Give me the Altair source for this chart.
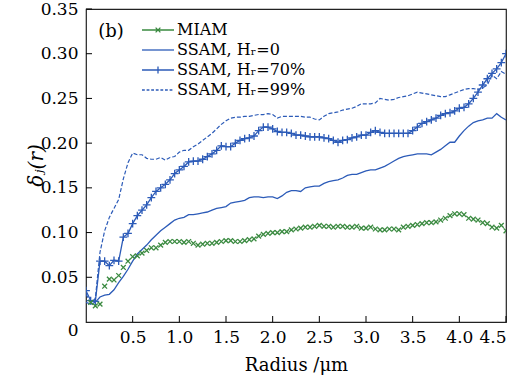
import altair as alt
import pandas as pd

# ---------------- data ----------------
radius = [round(i * 0.05, 2) for i in range(91)]  # 0.00 ... 4.50

miam_r = radius[1:]
miam = [0.022, 0.018, 0.020, 0.040, 0.048, 0.047, 0.052, 0.061, 0.068, 0.073,
        0.074, 0.077, 0.080, 0.083, 0.083, 0.086, 0.089, 0.090, 0.090, 0.090,
        0.089, 0.090, 0.088, 0.086, 0.087, 0.088, 0.088, 0.089, 0.090, 0.091,
        0.091, 0.090, 0.090, 0.091, 0.092, 0.093, 0.096, 0.098, 0.099, 0.100,
        0.100, 0.101, 0.101, 0.103, 0.104, 0.105, 0.106, 0.106, 0.107, 0.108,
        0.107, 0.107, 0.106, 0.107, 0.107, 0.106, 0.106, 0.107, 0.105, 0.105,
        0.106, 0.104, 0.103, 0.103, 0.104, 0.104, 0.103, 0.106, 0.107, 0.108,
        0.109, 0.110, 0.111, 0.111, 0.112, 0.114, 0.116, 0.119, 0.121, 0.121,
        0.120, 0.116, 0.115, 0.114, 0.111, 0.110, 0.106, 0.105, 0.108, 0.102]

hr0 = [0.022, 0.020, 0.022, 0.028, 0.030, 0.031, 0.036, 0.044, 0.051, 0.059,
       0.068, 0.076, 0.081, 0.086, 0.092, 0.097, 0.102, 0.106, 0.110, 0.114,
       0.116, 0.117, 0.120, 0.120, 0.121, 0.122, 0.123, 0.125, 0.127, 0.128,
       0.129, 0.133, 0.134, 0.135, 0.136, 0.139, 0.140, 0.140, 0.139, 0.140,
       0.140, 0.138, 0.141, 0.145, 0.147, 0.147, 0.146, 0.150, 0.151, 0.152,
       0.152, 0.155, 0.157, 0.158, 0.159, 0.161, 0.164, 0.165, 0.165, 0.167,
       0.169, 0.170, 0.170, 0.172, 0.174, 0.177, 0.180, 0.183, 0.185, 0.186,
       0.187, 0.188, 0.188, 0.188, 0.187, 0.190, 0.193, 0.197, 0.201, 0.201,
       0.208, 0.214, 0.219, 0.223, 0.225, 0.226, 0.228, 0.228, 0.233, 0.229,
       0.226]

hr70 = [0.035, 0.024, 0.023, 0.068, 0.068, 0.063, 0.069, 0.068, 0.095, 0.099,
        0.110, 0.119, 0.125, 0.131, 0.139, 0.146, 0.150, 0.154, 0.159, 0.166,
        0.170, 0.174, 0.179, 0.180, 0.180, 0.182, 0.185, 0.188, 0.192, 0.197,
        0.196, 0.196, 0.200, 0.203, 0.205, 0.206, 0.208, 0.214, 0.218, 0.218,
        0.216, 0.213, 0.212, 0.212, 0.211, 0.209, 0.209, 0.208, 0.207, 0.207,
        0.207, 0.206, 0.205, 0.203, 0.201, 0.203, 0.204, 0.206, 0.207, 0.209,
        0.209, 0.212, 0.214, 0.212, 0.211, 0.211, 0.211, 0.211, 0.211, 0.211,
        0.214, 0.218, 0.222, 0.224, 0.226, 0.228, 0.231, 0.233, 0.234, 0.236,
        0.239, 0.240, 0.244, 0.250, 0.257, 0.265, 0.272, 0.278, 0.283, 0.290,
        0.300]

hr99 = [0.031, 0.022, 0.026, 0.078, 0.102, 0.117, 0.127, 0.137, 0.160, 0.178,
        0.189, 0.187, 0.187, 0.183, 0.182, 0.182, 0.184, 0.181, 0.184, 0.185,
        0.190, 0.192, 0.192, 0.196, 0.199, 0.203, 0.207, 0.211, 0.216, 0.221,
        0.225, 0.228, 0.229, 0.229, 0.230, 0.230, 0.231, 0.232, 0.232, 0.233,
        0.232, 0.228, 0.230, 0.230, 0.230, 0.230, 0.230, 0.229, 0.229, 0.227,
        0.226, 0.230, 0.233, 0.234, 0.235, 0.237, 0.238, 0.239, 0.241, 0.244,
        0.244, 0.244, 0.245, 0.250, 0.249, 0.248, 0.249, 0.251, 0.252, 0.253,
        0.255, 0.257, 0.256, 0.255, 0.254, 0.253, 0.252, 0.252, 0.254, 0.256,
        0.258, 0.260, 0.261, 0.261, 0.260, 0.262, 0.265, 0.276, 0.272, 0.280,
        0.277]

names = ["MIAM", "SSAM, Hᵣ=0", "SSAM, Hᵣ=70%", "SSAM, Hᵣ=99%"]
GREEN = "#3a8a40"
BLUE = "#2c5bb8"
colors = [GREEN, BLUE, BLUE, BLUE]

x_ticks = [0.5, 1.0, 1.5, 2.0, 2.5, 3.0, 3.5, 4.0, 4.5]
y_ticks = [0.05, 0.10, 0.15, 0.20, 0.25, 0.30, 0.35]

# ---------------- tables ----------------
df_miam = pd.DataFrame({"r": miam_r, "v": miam})
df_hr0 = pd.DataFrame({"r": radius, "v": hr0})
df_hr70 = pd.DataFrame({"r": radius, "v": hr70})
df_hr99 = pd.DataFrame({"r": radius, "v": hr99})
df_leg = pd.DataFrame({"series": names})

FONT = "DejaVu Serif"
W, H = 420, 313

xscale = alt.Scale(domain=[0, 4.5], nice=False, zero=False)
yscale = alt.Scale(domain=[0, 0.35], nice=False)

x_enc = alt.X("r:Q", scale=xscale,
              axis=alt.Axis(values=x_ticks, format=".1f", tickSize=0,
                            labelPadding=7, domain=False, grid=False,
                            labelFont=FONT, labelFontSize=17, labelColor="black",
                            title="Radius /μm", titleFont=FONT, titleFontSize=18,
                            titleFontWeight="normal", titleColor="black",
                            titleX=W / 2, titleY=48, titleBaseline="alphabetic"))
y_enc = alt.Y("v:Q", scale=yscale,
              axis=alt.Axis(values=[0] + y_ticks, tickSize=0, labelPadding=8,
                            domain=False, grid=False,
                            labelExpr="datum.value === 0 ? '0' : format(datum.value, '.2f')",
                            labelBaseline={"condition": {"test": "datum.value === 0",
                                                         "value": "top"},
                                           "value": "middle"},
                            labelFont=FONT, labelFontSize=17, labelColor="black",
                            title="δⱼ(r)", titleFont=FONT, titleFontSize=20,
                            titleFontStyle="italic", titleFontWeight="normal",
                            titleColor="black", titleX=-40, titleY=156,
                            titleAngle=270, titleBaseline="bottom",
                            titleAlign="center"))

line_hr0 = alt.Chart(df_hr0).mark_line(color=BLUE, strokeWidth=1.3, clip=True).encode(
    x=x_enc, y=y_enc)
line_hr70 = alt.Chart(df_hr70).mark_line(color=BLUE, strokeWidth=1.3, clip=True).encode(
    x="r:Q", y="v:Q")
line_hr99 = alt.Chart(df_hr99).mark_line(color=BLUE, strokeWidth=1.2, strokeDash=[4, 2],
                                         clip=True).encode(x="r:Q", y="v:Q")
pts_hr70 = alt.Chart(df_hr70).mark_point(
    shape="M-1.3,0H1.3M0,-1.3V1.3", size=36, filled=False, color=BLUE,
    strokeWidth=1.3, opacity=1, clip=True).encode(x="r:Q", y="v:Q")
pts_miam = alt.Chart(df_miam).mark_point(
    shape="M-0.8,-0.8L0.8,0.8M-0.8,0.8L0.8,-0.8", size=36, filled=False, color=GREEN,
    strokeWidth=1.3, opacity=1, clip=True).encode(x="r:Q", y="v:Q")

# legend symbol paths (line + marker)
leg_paths = [
    "M-4,0H4M-0.6,-0.6L0.6,0.6M-0.6,0.6L0.6,-0.6",
    "M-4,0H4",
    "M-4,0H4M0,-0.9V0.9",
    "M-4,0H-3.3M-2.85,0H-2.15M-1.7,0H-1M-0.55,0H0.15M0.6,0H1.3M1.75,0H2.45M2.9,0H3.6",
]
legend = alt.Legend(
    title=None, orient="none", legendX=64, legendY=13, padding=0,
    labelFont=FONT, labelFontSize=16, labelColor="black",
    symbolSize=64, labelOffset=11, rowPadding=4, symbolStrokeWidth=1.3,
)
leg_layer = alt.Chart(df_leg).mark_point(filled=False, size=64, strokeWidth=1.3,
                                         opacity=1, clip=True).encode(
    x=alt.value(-300), y=alt.value(-300),
    color=alt.Color("series:N", scale=alt.Scale(domain=names, range=colors),
                    legend=legend),
    shape=alt.Shape("series:N", scale=alt.Scale(domain=names, range=leg_paths),
                    legend=legend),
)

xt = pd.DataFrame({"t": x_ticks})
yt = pd.DataFrame({"t": y_ticks})
xtick_rules = alt.Chart(xt).mark_rule(color="black", strokeWidth=1).encode(
    x=alt.X("t:Q", scale=xscale), y=alt.value(H - 6), y2=alt.value(H))
ytick_rules = alt.Chart(yt).mark_rule(color="black", strokeWidth=1).encode(
    y=alt.Y("t:Q", scale=yscale), x=alt.value(0), x2=alt.value(6))

label_b = alt.Chart(pd.DataFrame({"t": ["(b)"]})).mark_text(
    font=FONT, fontSize=18, color="black", align="center", baseline="middle"
).encode(text="t:N", x=alt.value(25), y=alt.value(23))

chart = alt.layer(line_hr0, line_hr70, line_hr99, pts_hr70, pts_miam,
                  xtick_rules, ytick_rules, label_b, leg_layer).properties(
    width=W, height=H,
    autosize=alt.AutoSizeParams(type="none"),
    padding={"left": 86, "top": 9, "right": 19, "bottom": 56},
).configure(background="white", font=FONT).configure_view(
    stroke="#222222", strokeWidth=1.2
).configure_axis(labelFont=FONT, titleFont=FONT).configure_legend(
    labelFont=FONT).configure_text(font=FONT)

chart.save("out.html", embed_options={"renderer": "svg", "actions": False})
